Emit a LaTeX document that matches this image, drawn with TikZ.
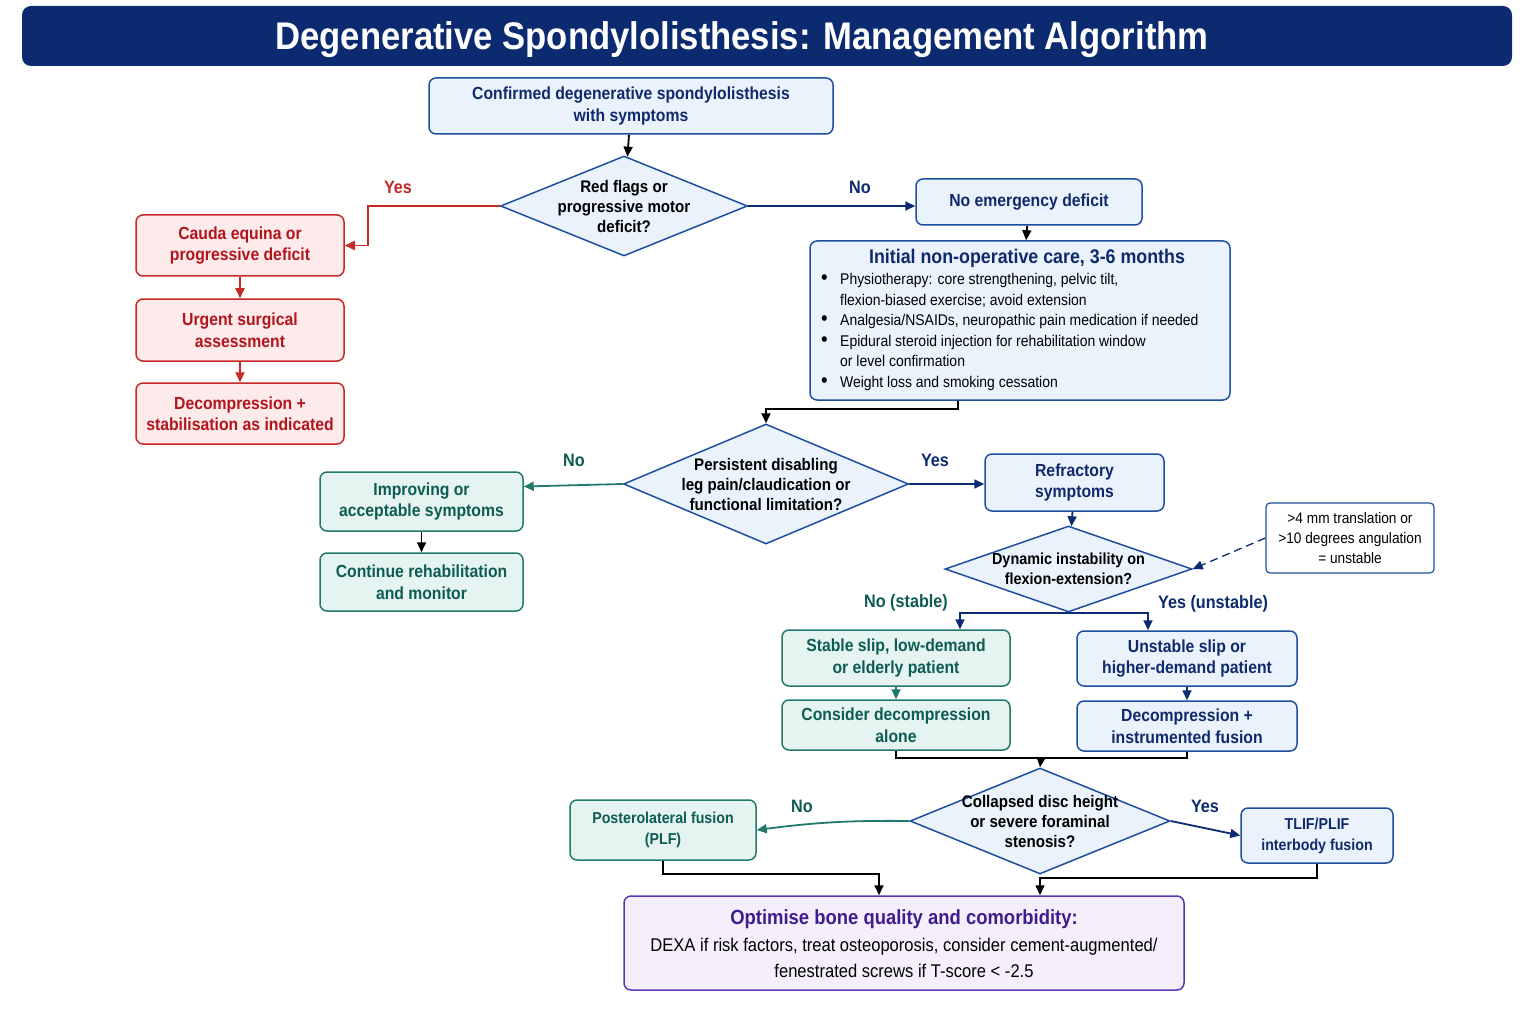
\documentclass[tikz,border=0pt]{standalone}
\usepackage{fontspec}
\setmainfont{Liberation Sans}[FakeStretch=0.9]
\usetikzlibrary{shapes.geometric,arrows.meta,calc}

\definecolor{navy}{HTML}{0B2A6F}
\definecolor{blueline}{HTML}{1F4E9E}
\definecolor{bluefill}{HTML}{EAF3FC}
\definecolor{bluetext}{HTML}{10296B}
\definecolor{redline}{HTML}{C62828}
\definecolor{redfill}{HTML}{FDEBEB}
\definecolor{redtext}{HTML}{B3141C}
\definecolor{tealline}{HTML}{23786C}
\definecolor{tealfill}{HTML}{E5F4F1}
\definecolor{tealtext}{HTML}{0D5C52}
\definecolor{purpline}{HTML}{5E35B1}
\definecolor{purpfill}{HTML}{F4EFFB}
\definecolor{purptext}{HTML}{3F1D8C}

\newcommand{\blt}{\makebox[19pt][l]{\fontsize{21}{20}\selectfont\textbullet}}

\begin{document}
\begin{tikzpicture}[x=1pt,y=-1pt,
    box/.style={draw, rounded corners=7pt, line width=1.5pt, align=center, inner sep=2pt,
      font=\bfseries\fontsize{17.5}{21.5}\selectfont},
    bluebox/.style={box, draw=blueline, fill=bluefill, text=bluetext},
    redbox/.style={box, draw=redline, fill=redfill, text=redtext},
    tealbox/.style={box, draw=tealline, fill=tealfill, text=tealtext},
    decision/.style={diamond, draw=blueline, fill=bluefill, line width=1.5pt, inner sep=0pt},
    dtext/.style={align=center, text=black, font=\bfseries\fontsize{16.8}{20}\selectfont},
    arr/.style={-{Triangle[length=10pt,width=9pt]}, line width=1.8pt},
    lbl/.style={font=\bfseries\fontsize{18}{22}\selectfont}
  ]
  \useasboundingbox (0,0) rectangle (1536,1024);

  % title bar
  \node[fill=navy, rounded corners=9pt, minimum width=1490, minimum height=60] (title) at (767,36) {};
  \node[text=white, font=\bfseries\fontsize{38.5}{44}\selectfont] (titletext) at (742,40)
    {Degenerative Spondylolisthesis: Management Algorithm};

  % start and first decision
  \node[bluebox, minimum width=404, minimum height=56] (start) at (631,106)
    {Confirmed degenerative spondylolisthesis\\with symptoms};
  \node[decision, minimum width=247, minimum height=100] (d1) at (624,206) {};
  \node[dtext] at (d1) {Red flags or\\progressive motor\\deficit?};

  % red flag branch
  \node[redbox, minimum width=208, minimum height=61] (red1) at (240,245.5)
    {Cauda equina or\\progressive deficit};
  \node[redbox, minimum width=208, minimum height=62] (red2) at (240,330)
    {Urgent surgical\\assessment};
  \node[redbox, minimum width=208, minimum height=61] (red3) at (240,413.5)
    {Decompression +\\stabilisation as indicated};

  % non-operative branch
  \node[bluebox, minimum width=226, minimum height=46] (noem) at (1029,202)
    {No emergency deficit};
  \node[bluebox, minimum width=420, minimum height=159] (care) at (1020,320.5) {};
  \node[text=bluetext, font=\bfseries\fontsize{19.8}{22}\selectfont] (caretitle) at (1027,258)
    {Initial non-operative care, 3-6 months};
  \node[anchor=north west, align=left, inner sep=0pt,
    font=\fontsize{15.5}{20.6}\selectfont] (carelist) at (821,273)
    {\blt Physiotherapy: core strengthening, pelvic tilt,\\
     \hspace*{19pt}flexion-biased exercise; avoid extension\\
     \blt Analgesia/NSAIDs, neuropathic pain medication if needed\\
     \blt Epidural steroid injection for rehabilitation window\\
     \hspace*{19pt}or level confirmation\\
     \blt Weight loss and smoking cessation};

  % second decision
  \node[decision, minimum width=285, minimum height=120] (d2) at (766,484) {};
  \node[dtext] at (d2) {Persistent disabling\\leg pain/claudication or\\functional limitation?};
  \node[tealbox, minimum width=203, minimum height=59] (teal1) at (421.5,501.5)
    {Improving or\\acceptable symptoms};
  \node[tealbox, minimum width=203, minimum height=58] (teal2) at (421.5,582)
    {Continue rehabilitation\\and monitor};
  \node[bluebox, minimum width=179, minimum height=57] (refr) at (1074.5,482.5)
    {Refractory\\symptoms};

  % instability decision
  \node[decision, minimum width=247, minimum height=86] (d3) at (1068.5,569) {};
  \node[dtext, font=\bfseries\fontsize{16}{20}\selectfont] at (d3) {Dynamic instability on\\flexion-extension?};
  \node[draw=blueline, fill=white, rounded corners=4pt, line width=1.2pt, minimum width=168,
    minimum height=70, align=center, font=\fontsize{15.2}{20}\selectfont] (note) at (1350,538)
    {>4 mm translation or\\>10 degrees angulation\\= unstable};
  \node[tealbox, minimum width=228, minimum height=56] (stable) at (896,658)
    {Stable slip, low-demand\\or elderly patient};
  \node[tealbox, minimum width=228, minimum height=50] (consider) at (896,725)
    {Consider decompression\\alone};
  \node[bluebox, minimum width=220, minimum height=55] (unstable) at (1187,658.5)
    {Unstable slip or\\higher-demand patient};
  \node[bluebox, minimum width=220, minimum height=50] (decomp) at (1187,726)
    {Decompression +\\instrumented fusion};

  % fusion decision
  \node[decision, minimum width=260, minimum height=106] (d4) at (1040,821) {};
  \node[dtext] at (d4) {Collapsed disc height\\or severe foraminal\\stenosis?};
  \node[tealbox, minimum width=186, minimum height=60, font=\bfseries\fontsize{15.8}{21}\selectfont]
    (plf) at (663,830) {Posterolateral fusion\\(PLF)};
  \node[bluebox, minimum width=152, minimum height=55, font=\bfseries\fontsize{15.8}{21}\selectfont]
    (tlif) at (1317,835.5) {TLIF/PLIF\\interbody fusion};
  \node[box, draw=purpline, fill=purpfill, minimum width=560, minimum height=94] (bone) at (904,943) {};
  \node[text=purptext, font=\bfseries\fontsize{20.5}{24}\selectfont] (bonetitle) at (904,919)
    {Optimise bone quality and comorbidity:};
  \node[align=center, font=\fontsize{18.4}{26}\selectfont] (bonetext) at (904,958)
    {DEXA if risk factors, treat osteoporosis, consider cement-augmented/\\
     fenestrated screws if T-score < -2.5};

  % connectors
  \draw[arr] (start) -- (d1);
  \draw[arr, redline] (d1.west) -- ++(-132,0) |- (red1.east);
  \draw[arr, redline] (red1) -- (red2);
  \draw[arr, redline] (red2) -- (red3);
  \draw[arr, navy] (d1.east) -- (d1.east -| noem.west);
  \draw[arr] (noem) -- (care);
  \draw[arr] ([xshift=-62pt]care.south) -- ++(0,8) -| (d2.north);
  \draw[arr, tealline] (d2.west) -- ([yshift=15pt]teal1.east);
  \draw[arr] (teal1) -- (teal2);
  \draw[arr, navy] (d2.east) -- (d2.east -| refr.west);
  \draw[arr, navy] (refr) -- (d3);
  \draw[arr, navy, dash pattern=on 8pt off 5pt, line width=1.3pt] (note.west) -- (d3.east);
  \draw[arr, navy] (d3.south) -| ([xshift=64pt]stable.north);
  \draw[arr, navy] (d3.south) -| ([xshift=-39pt]unstable.north);
  \draw[arr, tealline] (stable) -- (consider);
  \draw[arr, navy] (unstable) -- (decomp);
  \coordinate (merge) at (1041,758);
  \draw[line width=1.8pt] (consider.south) |- (merge) -| (decomp.south);
  \draw[arr] (merge) -- (d4.north);
  \draw[arr, tealline] (d4.west) to[bend right=4] (plf.east);
  \draw[arr, navy] (d4.east) -- (tlif.west);
  \draw[arr] (plf.south) -- ++(0,13) -| ([xshift=-25pt]bone.north);
  \draw[arr] (tlif.south) -- ++(0,14) -| ([xshift=136pt]bone.north);

  % branch labels
  \node[lbl, text=redline] (lyes1) at (398,187) {Yes};
  \node[lbl, text=navy] (lno1) at (860,187) {No};
  \node[lbl, text=tealtext] (lno2) at (574,460) {No};
  \node[lbl, text=navy] (lyes2) at (935,460) {Yes};
  \node[lbl, text=tealtext] (lno3) at (906,603) {No (stable)};
  \node[lbl, text=navy] (lyes3) at (1213,604) {Yes (unstable)};
  \node[lbl, text=tealtext] (lno4) at (802,806) {No};
  \node[lbl, text=navy] (lyes4) at (1205,806) {Yes};
\end{tikzpicture}
\end{document}
